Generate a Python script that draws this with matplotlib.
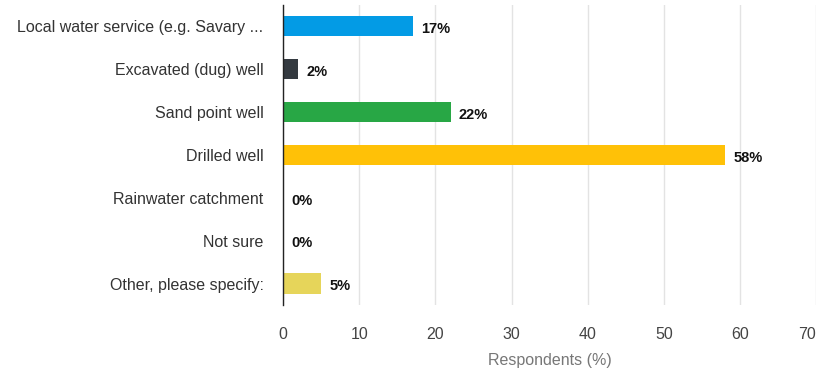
#!/usr/bin/env python3
"""Water source survey — horizontal bar chart of respondents (%)."""
import matplotlib
import matplotlib.pyplot as plt

matplotlib.use("Agg")
plt.rcParams["font.family"] = ["Liberation Sans", "DejaVu Sans"]

categories = [
    "Local water service (e.g. Savary ...",
    "Excavated (dug) well",
    "Sand point well",
    "Drilled well",
    "Rainwater catchment",
    "Not sure",
    "Other, please specify:",
]
percent = [17, 2, 22, 58, 0, 0, 5]
colors = ["#039be5", "#343a40", "#28a745", "#ffc107", "#e0e0e0", "#888888", "#e6d55a"]
x_ticks = [0, 10, 20, 30, 40, 50, 60, 70]

fig = plt.figure(figsize=(8.18, 3.76), dpi=100)
ax = fig.add_axes([0.346, 0.189, 0.652, 0.798])

ypos = list(range(len(categories)))
ax.barh(ypos, percent, height=0.47, color=colors, zorder=3)
for y, v in zip(ypos, percent):
    ax.annotate(f"{v}%", (v, y), xytext=(6, -2), textcoords="offset points",
                ha="left", va="center", fontsize=10.5, fontweight="bold", color="#111111")

ax.set_ylim(len(categories) - 0.5, -0.5)
ax.set_xlim(0, 70)
ax.set_yticks(ypos)
ax.set_yticklabels(categories, fontsize=11.5, color="#333333")
ax.set_xticks(x_ticks)
ax.set_xticklabels([str(t) for t in x_ticks], fontsize=11.5, color="#444444")
ax.get_xticklabels()[-1].set_ha("right")
ax.get_xticklabels()[-1].set_x(69.9)
ax.tick_params(axis="both", length=0)
ax.tick_params(axis="y", pad=14)
ax.tick_params(axis="x", pad=16)
ax.set_xlabel("Respondents (%)", fontsize=11.5, color="#777777", labelpad=8)

ax.grid(True, axis="x", color="#e3e3e3", linewidth=1, zorder=0)
for side in ("top", "right", "bottom"):
    ax.spines[side].set_visible(False)
ax.spines["left"].set_color("#222222")
ax.spines["left"].set_linewidth(1)
ax.spines["left"].set_zorder(4)

fig.savefig("out.png", dpi=100)
plt.close(fig)
